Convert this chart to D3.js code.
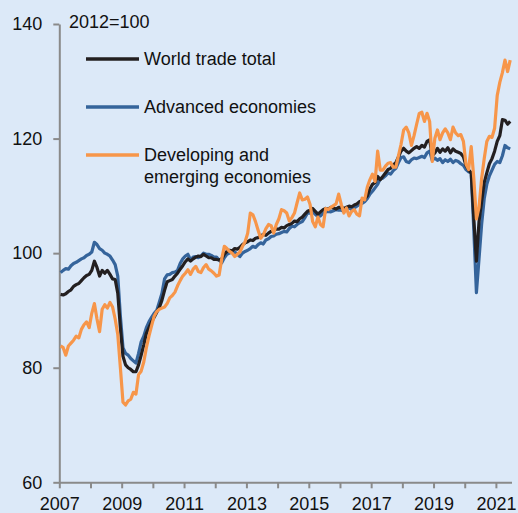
<!DOCTYPE html>
<html>
<head>
<meta charset="utf-8">
<script src="https://cdn.jsdelivr.net/npm/d3@7"></script>
<style>
  html, body { margin: 0; padding: 0; background: #dce9f8; }
  svg text { font-family: "Liberation Sans", Arial, sans-serif; fill: #111; }
</style>
</head>
<body>
<div id="chart"></div>
<script>
// monthly index values, Jan 2007 - Jun 2021 (2012=100)
var startYear = 2007;

var world = [
  92.8, 92.7, 92.9, 93.3, 93.6, 94.2, 94.5, 94.7, 95.2, 95.7, 96.1, 96.3,
  97.0, 98.6, 97.5, 96.0, 97.0, 96.5, 97.0, 96.3, 95.5, 95.4, 93.0, 87.0,
  82.0, 80.5, 80.0, 79.7, 79.3, 79.3, 80.5, 82.2, 84.0, 86.0, 87.0, 88.0,
  88.8, 89.7, 90.5, 91.8, 93.5, 95.0, 95.2, 95.4, 96.0, 96.5, 97.2, 97.8,
  98.5, 99.0, 98.6, 99.0, 99.3, 99.5, 99.4, 99.8, 99.5, 99.2, 99.2, 98.9,
  98.9, 98.8, 99.0, 99.8, 100.3, 100.5, 100.4, 100.8, 100.7, 101.0, 101.5, 101.8,
  102.0, 102.3, 102.2, 102.6, 102.7, 103.0, 103.3, 103.1, 103.5, 103.8, 104.0, 104.2,
  104.2, 104.5, 104.4, 104.8, 105.0, 105.2, 105.6, 105.5, 106.0, 106.3, 106.8, 107.3,
  107.5, 107.8, 107.3, 106.8, 107.2, 107.6, 107.8, 107.7, 108.0, 107.9, 107.7, 108.0,
  108.0, 107.8, 108.0, 108.2, 108.1, 108.4, 108.6, 109.0, 109.2, 109.5, 110.0, 111.2,
  112.0, 112.3, 113.4, 112.8, 113.4, 114.0, 114.6, 114.8, 115.4, 115.8, 116.8, 117.8,
  118.3, 117.8, 117.5, 117.9, 118.3, 118.6, 118.3, 118.8, 118.5, 119.5, 119.8, 117.0,
  117.5, 118.3, 117.6, 118.2, 117.8, 118.4, 117.5, 118.2, 117.8, 117.6, 117.4, 116.8,
  115.3, 114.5, 114.0, 106.0, 98.6, 105.5, 109.0, 112.3, 114.0, 115.6, 116.5, 117.8,
  119.5, 120.5, 123.3, 123.2, 122.5, 123.0
];

var advanced = [
  96.6, 97.0, 97.3, 97.2, 97.8, 98.2, 98.4, 98.7, 99.0, 99.2, 99.6, 99.8,
  100.2, 101.9, 101.5, 100.8, 100.5, 100.0, 99.8, 99.5, 98.8, 98.0, 96.0, 89.0,
  83.5, 82.5, 82.2, 81.6, 81.2, 80.8, 82.5, 84.5, 85.5, 87.0, 88.0, 88.8,
  89.5, 90.0, 91.5, 93.0, 95.5, 96.2, 96.3, 96.6, 96.7, 97.0, 98.2, 99.0,
  99.5, 99.8, 98.8, 99.3, 99.4, 99.2, 99.5, 100.0, 99.8, 99.8, 99.6, 99.3,
  99.3, 98.8, 98.3, 99.2, 99.8, 100.0, 100.3, 100.2, 99.8, 99.4, 100.0, 100.3,
  100.5, 100.8, 101.2, 101.0, 101.5, 101.8, 101.6, 102.3, 102.5, 102.9, 103.0, 103.3,
  103.4, 103.6, 103.8, 103.7, 104.3, 104.7, 104.6, 105.0, 105.3, 105.5, 106.2, 107.0,
  107.0, 107.2, 106.8, 106.4, 106.5, 107.0, 107.2, 107.3, 107.2, 107.4, 107.6, 107.5,
  107.5, 107.3, 107.7, 107.9, 107.6, 107.9, 108.2, 108.5, 108.7, 109.0, 109.5, 110.3,
  110.8, 111.4, 112.0, 113.0, 113.1, 113.5, 114.0, 113.8, 114.4, 114.8, 115.8, 116.7,
  116.8, 116.0, 115.8, 116.3, 116.6, 116.5, 116.7, 116.9, 116.7, 117.5, 117.8, 116.2,
  116.6, 116.2, 116.5, 115.8, 116.3, 116.0, 116.4, 115.8, 116.2, 116.0, 115.6, 115.3,
  114.6, 114.2, 114.0, 104.0, 93.1, 99.0, 105.0, 109.5, 112.0, 113.5, 114.5, 115.5,
  116.0, 115.8, 117.0, 118.8, 118.4, 118.2
];

var developing = [
  83.8, 83.5, 82.2, 83.8, 84.3, 84.8, 85.5, 85.2, 86.7, 87.5, 88.0, 87.0,
  89.5, 91.2, 88.5, 86.3, 90.2, 91.0, 90.4, 91.4, 90.6, 88.5, 85.8, 80.0,
  74.0, 73.5, 74.2, 74.5, 75.7, 75.4, 78.8, 79.4, 81.0, 83.5, 85.5, 87.3,
  89.0, 89.8, 90.2, 90.4, 90.6, 91.2, 92.2, 92.6, 93.2, 94.3, 95.2, 96.0,
  96.5, 97.1, 96.3, 97.2, 97.7, 96.8, 96.6, 97.5, 98.0, 97.2, 96.9, 96.5,
  96.0, 96.2, 99.0, 101.2, 100.8, 100.3, 100.0, 99.4, 99.8, 100.2, 101.2, 102.0,
  103.5, 107.0, 106.7, 105.5, 104.0, 102.6, 103.2, 104.3, 105.0, 104.8, 103.5, 105.0,
  106.0, 107.6, 107.4, 107.0, 105.6, 106.2, 107.0, 108.8, 110.5, 109.3, 109.4, 109.8,
  108.5, 105.5, 104.6, 106.3, 105.0, 104.6, 107.8, 107.6, 108.0, 108.3, 108.6, 110.3,
  108.5, 107.0, 107.9, 106.5, 107.3, 107.6, 106.8, 106.5, 109.6, 109.3, 111.5, 112.8,
  113.8, 112.5, 117.8, 114.5, 114.5, 115.2, 115.7, 115.8, 115.0, 115.0, 117.0, 119.0,
  121.5, 122.0, 121.0, 118.8, 120.5, 122.5, 124.4, 124.6, 123.0, 124.4, 123.0, 116.0,
  120.0, 121.5, 119.8, 121.0, 121.7, 121.0, 119.8, 122.0, 121.0, 120.5, 120.7, 119.5,
  115.5, 114.6, 118.6, 113.0, 106.0, 108.0, 113.0, 116.5, 119.5, 120.4, 120.2, 121.8,
  127.5, 129.8, 131.5, 133.7, 131.7, 133.7
];

var seriesNames = ["World trade total", "Advanced economies", "Developing and|emerging economies"];
var seriesColors = ["#231f20", "#35649b", "#f7964a"];
var yTicks = [60, 80, 100, 120, 140];
var xTicks = d3.range(2007, 2022);
var baseLabel = "2012=100";

var width = 518, height = 513;

var svg = d3.select("#chart").append("svg")
    .attr("width", width)
    .attr("height", height);

svg.append("rect")
    .attr("width", width)
    .attr("height", height)
    .attr("fill", "#dce9f8");

var x = d3.scaleLinear().domain([2007, 2021.5]).range([59.3, 511.5]);
var y = d3.scaleLinear().domain([60, 140]).range([482.3, 24]);

function toPoints(values) {
    return values.map(function (v, i) { return { t: startYear + (i + 0.5) / 12, v: v }; });
}

var line = d3.line()
    .x(function (d) { return x(d.t); })
    .y(function (d) { return y(d.v); });

// axes
var yAxis = svg.append("g")
    .attr("transform", "translate(" + x(2007) + ",0)")
    .call(d3.axisLeft(y).tickValues(yTicks).tickSize(6).tickSizeOuter(0).tickPadding(11));

var xAxis = svg.append("g")
    .attr("transform", "translate(0," + y(60) + ")")
    .call(d3.axisBottom(x).tickValues(xTicks).tickSize(6).tickSizeOuter(0).tickPadding(8.5)
        .tickFormat(function (d) { return d % 2 ? d : ""; }));

[yAxis, xAxis].forEach(function (g) {
    g.selectAll("path, line").attr("stroke", "#8a8a8a").attr("stroke-width", 2);
    g.selectAll("text").style("font-size", "18px").attr("fill", "#111");
});

// series: blue under black under orange
var drawOrder = [1, 0, 2];
var data = [world, advanced, developing];
drawOrder.forEach(function (k) {
    svg.append("path")
        .datum(toPoints(data[k]))
        .attr("fill", "none")
        .attr("stroke", seriesColors[k])
        .attr("stroke-width", 3.2)
        .attr("stroke-linejoin", "round")
        .attr("d", line);
});

svg.append("text")
    .attr("x", 69)
    .attr("y", 22)
    .attr("dy", "0.35em")
    .style("font-size", "18px")
    .text(baseLabel);

// legend
var legendY = [59, 107, 155];
seriesNames.forEach(function (name, i) {
    var g = svg.append("g").attr("transform", "translate(86," + legendY[i] + ")");
    g.append("line")
        .attr("x1", 0).attr("x2", 53)
        .attr("stroke", seriesColors[i])
        .attr("stroke-width", 3.5);
    var t = g.append("text").attr("x", 58).style("font-size", "18px");
    name.split("|").forEach(function (part, j) {
        t.append("tspan").attr("x", 58).attr("y", j * 22).attr("dy", "0.35em").text(part);
    });
});
</script>
</body>
</html>
